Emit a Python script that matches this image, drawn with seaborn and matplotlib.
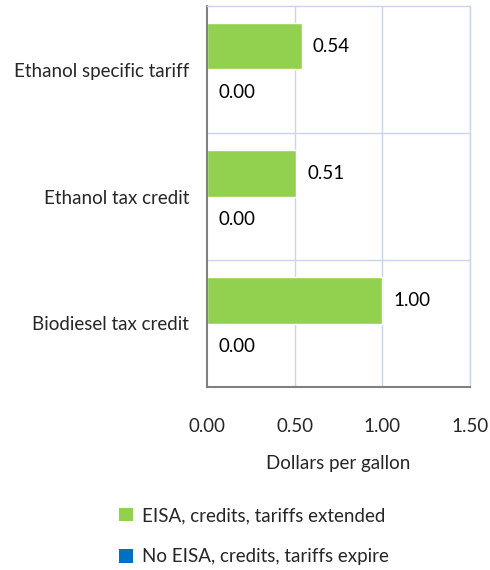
import matplotlib
matplotlib.use("Agg")
import matplotlib.pyplot as plt
import seaborn as sns
import pandas as pd
from matplotlib.patches import Patch

categories = ["Ethanol specific tariff", "Ethanol tax credit", "Biodiesel tax credit"]
series_names = ["EISA, credits, tariffs extended", "No EISA, credits, tariffs expire"]
eisa_values = [0.54, 0.51, 1.00]
no_eisa_values = [0.00, 0.00, 0.00]
x_ticks = [0.0, 0.5, 1.0, 1.5]
colors = ["#92d050", "#0070c0"]

df = pd.DataFrame({
    "category": categories * 2,
    "series": [series_names[0]] * 3 + [series_names[1]] * 3,
    "value": eisa_values + no_eisa_values,
})

sns.set_theme(style="white")
plt.rcParams["font.family"] = ["Lato", "DejaVu Sans"]
FS = 13.5

fig = plt.figure(figsize=(4.9, 5.7), dpi=100)
ax = fig.add_axes([207/490, 1 - 387/570, 263/490, 381/570])

sns.barplot(data=df, y="category", x="value", hue="series", order=categories,
            hue_order=series_names, palette=colors, width=0.725, orient="h",
            ax=ax, legend=False, saturation=1)

for cont in ax.containers:
    ax.bar_label(cont, labels=[f"{v:.2f}" for v in cont.datavalues],
                 padding=8, fontsize=FS, color="#000000")

ax.set_xlim(0, 1.5)
ax.set_xticks(x_ticks)
ax.set_xticklabels([f"{t:.2f}" for t in x_ticks], fontsize=FS)
ax.set_ylim(2.5, -0.5)
ax.tick_params(axis="x", pad=22, length=0)
ax.tick_params(axis="y", pad=13, length=0, labelsize=FS)
for lab in ax.get_yticklabels():
    lab.set_y(lab.get_position()[1])
ax.set_xlabel("Dollars per gallon", fontsize=FS, labelpad=15)
ax.set_ylabel("")

grid_color = "#c9d5ec"
for x in x_ticks[1:]:
    ax.axvline(x, color=grid_color, lw=1, zorder=0)
for y in [0.5, 1.5]:
    ax.axhline(y, color=grid_color, lw=1, zorder=0)

for s in ["top", "right"]:
    ax.spines[s].set_color(grid_color)
    ax.spines[s].set_linewidth(1)
for s in ["left", "bottom"]:
    ax.spines[s].set_color("#808080")
    ax.spines[s].set_linewidth(1.5)

handles = [Patch(facecolor=c, edgecolor="none") for c in colors]
fig.legend(handles, series_names, loc="upper left", bbox_to_anchor=(119/490, 1 - 507/570),
           frameon=False, fontsize=FS, handlelength=0.75, handleheight=0.75,
           handletextpad=0.5, labelspacing=1.3, borderpad=0, borderaxespad=0)

fig.savefig("out.png", dpi=100)
